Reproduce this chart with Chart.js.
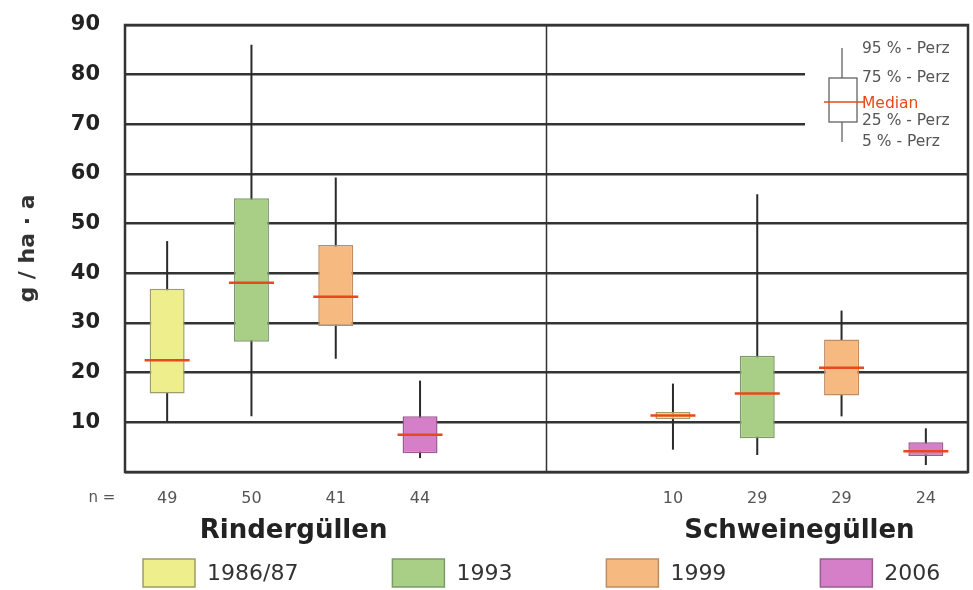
<!DOCTYPE html>
<html><head><meta charset="utf-8">
<script src="https://cdn.jsdelivr.net/npm/chart.js@4/dist/chart.umd.min.js"></script>
<style>html,body{margin:0;padding:0;background:#fff;}canvas{display:block;}</style>
</head><body>
<canvas id="c" width="973" height="590"></canvas>
<script>
// ---- data ----
const nLabels   = ['49','50','41','44','','','10','29','29','24'];
const groupNames = ['Rindergüllen','Schweinegüllen'];
const years     = ['1986/87','1993','1999','2006'];
const yearIndex = [0,1,2,3,null,null,0,1,2,3];
const p5     = [10.2, 11.2, 22.8, 2.8, null, null, 4.5, 3.4, 11.2, 1.4];
const p25    = [15.8, 26.2, 29.4, 3.8, null, null, 10.6, 6.8, 15.4, 3.2];
const median = [22.5, 38.1, 35.3, 7.5, null, null, 11.4, 15.8, 21.0, 4.2];
const p75    = [36.9, 55.1, 45.7, 11.2, null, null, 12.1, 23.4, 26.7, 6.0];
const p95    = [46.5, 86.0, 59.3, 18.4, null, null, 17.8, 55.9, 32.5, 8.8];
const yMin = 0, yMax = 90, yStep = 10;
const yTitle = 'g / ha · a';
const nPrefix = 'n =';
const insetLabels = ['95 % - Perz','75 % - Perz','Median','25 % - Perz','5 % - Perz'];

// ---- styles ----
const fills   = ['#eeee8c','#a9cf86','#f6b97f','#d67fc9'];
const borders = ['#9c9c6c','#7c9a68','#c08c62','#9a5c90'];
const dark = '#333';
const medColor = '#e8481c';

const datasets = years.map((yr, k) => ({
  label: yr,
  data: nLabels.map((_, i) => yearIndex[i] === k ? [p25[i], p75[i]] : null),
  backgroundColor: fills[k],
  borderColor: borders[k],
  borderWidth: 1.5,
  borderSkipped: false,
  grouped: false,
  categoryPercentage: 1,
  barPercentage: 0.415
}));

function line(ctx, x1, y1, x2, y2){ ctx.beginPath(); ctx.moveTo(x1,y1); ctx.lineTo(x2,y2); ctx.stroke(); }

const extras = {
  id: 'extras',
  beforeDatasetsDraw(chart){
    const {ctx, chartArea: a, scales: {x, y}} = chart;
    ctx.save();
    // clear grid behind the inset key
    ctx.fillStyle = '#fff';
    ctx.fillRect(805, a.top + 3, a.right - 805, 150 - a.top);
    // divider between groups
    const xd = (x.getPixelForValue(4) + x.getPixelForValue(5)) / 2;
    ctx.strokeStyle = dark; ctx.lineWidth = 1.5;
    line(ctx, xd, a.top, xd, a.bottom);
    // whiskers
    ctx.strokeStyle = '#2a2a2a'; ctx.lineWidth = 2;
    chart.data.datasets.forEach((ds, d) => {
      chart.getDatasetMeta(d).data.forEach((el, i) => {
        if (ds.data[i] == null) return;
        line(ctx, el.x, y.getPixelForValue(p5[i]), el.x, y.getPixelForValue(p95[i]));
      });
    });
    ctx.restore();
  },
  afterDatasetsDraw(chart){
    const {ctx, chartArea: a, scales: {x, y}} = chart;
    ctx.save();
    // medians
    ctx.strokeStyle = medColor; ctx.lineWidth = 2.5;
    chart.data.datasets.forEach((ds, d) => {
      chart.getDatasetMeta(d).data.forEach((el, i) => {
        if (ds.data[i] == null) return;
        const ym = y.getPixelForValue(median[i]);
        const hw = el.width / 2 + 5;
        line(ctx, el.x - hw, ym, el.x + hw, ym);
      });
    });
    // frame
    ctx.strokeStyle = dark; ctx.lineWidth = 2.5;
    ctx.strokeRect(a.left, a.top, a.right - a.left, a.bottom - a.top);

    // "n =" prefix
    ctx.fillStyle = '#555';
    ctx.font = '15px "DejaVu Sans"';
    ctx.textAlign = 'center'; ctx.textBaseline = 'middle';
    ctx.fillText(nPrefix, 102, 498);

    // group names
    ctx.fillStyle = '#222';
    ctx.font = 'bold 26px "DejaVu Sans"';
    ctx.textBaseline = 'alphabetic';
    const g1 = (x.getPixelForValue(0) + x.getPixelForValue(3)) / 2;
    const g2 = (x.getPixelForValue(6) + x.getPixelForValue(9)) / 2;
    ctx.fillText(groupNames[0], g1, 538);
    ctx.fillText(groupNames[1], g2, 538);

    // bottom legend
    ctx.font = '22px "DejaVu Sans"';
    ctx.textAlign = 'left'; ctx.textBaseline = 'middle';
    let lx = 143;
    chart.data.datasets.forEach((ds) => {
      ctx.fillStyle = ds.backgroundColor;
      ctx.fillRect(lx, 559, 52, 28);
      ctx.strokeStyle = ds.borderColor; ctx.lineWidth = 1.5;
      ctx.strokeRect(lx, 559, 52, 28);
      ctx.fillStyle = '#333';
      ctx.fillText(ds.label, lx + 64, 574);
      lx += 52 + 12 + ctx.measureText(ds.label).width + 94;
    });

    // inset key
    const kx = 842;
    ctx.strokeStyle = '#555'; ctx.lineWidth = 1.2;
    line(ctx, kx, 48, kx, 142);
    ctx.fillStyle = '#fff';
    ctx.fillRect(829, 78, 28, 44);
    ctx.strokeRect(829, 78, 28, 44);
    ctx.strokeStyle = medColor; ctx.lineWidth = 1.5;
    line(ctx, 824, 102, 864, 102);
    ctx.font = '15.5px "DejaVu Sans"';
    ctx.textAlign = 'left'; ctx.textBaseline = 'middle';
    const ky = [49, 78, 104, 121, 142];
    insetLabels.forEach((t, i) => {
      ctx.fillStyle = i === 2 ? medColor : '#555';
      ctx.fillText(t, 862, ky[i]);
    });
    ctx.restore();
  }
};

new Chart(document.getElementById('c'), {
  type: 'bar',
  data: { labels: nLabels, datasets },
  options: {
    responsive: false,
    animation: false,
    events: [],
    layout: { padding: { left: 0, top: 25, right: 5, bottom: 0 } },
    plugins: { legend: { display: false }, tooltip: { enabled: false } },
    scales: {
      x: {
        type: 'category',
        grid: { display: false, drawTicks: false },
        border: { display: false },
        ticks: { color: '#555', font: { family: 'DejaVu Sans', size: 16 }, padding: 17, maxRotation: 0, autoSkip: false },
        afterFit(s){ s.height = 118; s.paddingLeft = 0; s.paddingRight = 0; }
      },
      y: {
        min: yMin, max: yMax,
        ticks: { stepSize: yStep, color: '#222', font: { family: 'DejaVu Sans', size: 21, weight: 'bold' }, padding: 25,
                 callback: v => v === 0 ? '' : v },
        grid: { color: dark, lineWidth: 2.5, drawTicks: false },
        border: { display: false },
        title: { display: true, text: yTitle, color: '#333', font: { family: 'DejaVu Sans', size: 22, weight: 'bold' }, padding: { top: 15 } },
        afterFit(s){ s.width = 125; s.paddingTop = 0; s.paddingBottom = 0; }
      }
    }
  },
  plugins: [extras]
});
</script>
</body></html>
